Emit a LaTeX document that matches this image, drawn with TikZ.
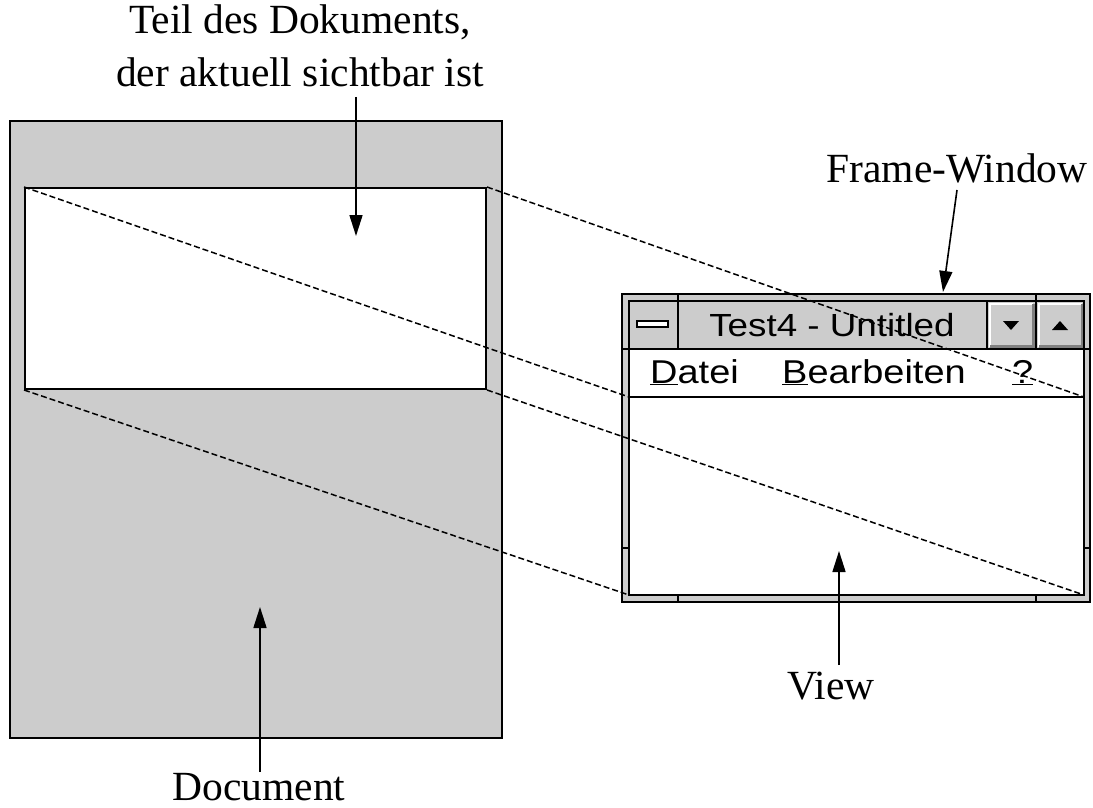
\documentclass[tikz,border=0pt]{standalone}
\usepackage{fontspec}
\setmainfont{Liberation Serif}
\newfontfamily\uifont[FakeStretch=1.15]{Liberation Sans}
\usetikzlibrary{arrows.meta}
\definecolor{docgray}{RGB}{204,204,204}
\definecolor{btnshadow}{RGB}{128,128,128}

\begin{document}
\begin{tikzpicture}[x=1pt,y=-1pt,
  labeltext/.style={font=\fontsize{41.5}{48}\selectfont, inner sep=0pt, anchor=base},
  uitext/.style={font=\uifont\fontsize{33}{38}\selectfont, inner sep=0pt, anchor=base west},
  box/.style={draw=black, line width=2pt, inner sep=0pt, rectangle},
  pointer/.style={line width=1.6pt, -{Triangle[width=13pt,length=21pt]}},
  proj/.style={line width=1.5pt, dash pattern=on 6pt off 3pt},
  thin frame/.style={draw=black, line width=1.6pt},
  tick/.style={black, line width=1.6pt}
]
\path[use as bounding box] (0,0) rectangle (1093,808);

% ---- the document with its visible part ----
\node[box, fill=docgray, minimum width=492pt, minimum height=617pt] (doc) at (256,429.5) {};
\node[box, fill=white, minimum width=461pt, minimum height=201pt] (vis) at (255.5,288.5) {};

% ---- the frame window ----
\node[thin frame, fill=docgray, inner sep=0pt, minimum width=468pt, minimum height=308pt] (frame) at (856,448) {};
\node[thin frame, fill=white, inner sep=0pt, minimum width=455pt, minimum height=294pt] (client) at (856.5,448) {};
% title bar
\node[thin frame, fill=docgray, inner sep=0pt, minimum width=455pt, minimum height=48pt] (title) at (856.5,325) {};
\draw[tick] (678,301) -- (678,349);
% system menu bar icon
\node[draw=black, fill=white, line width=1.3pt, inner sep=0pt, minimum width=31pt, minimum height=6pt] (sysicon) at (652.5,324) {};
% minimize / maximize buttons
\fill[docgray] (987,301) rectangle (1084,349);
\draw[white, line width=2pt] (989.5,347) -- (989.5,303.5) -- (1033,303.5);
\draw[btnshadow, line width=2.5pt] (990,346.5) -- (1033.5,346.5) -- (1033.5,304);
\draw[white, line width=2pt] (1038.5,347) -- (1038.5,303.5) -- (1082,303.5);
\draw[btnshadow, line width=2.5pt] (1039,346.5) -- (1082,346.5) -- (1082,304);
\draw[tick] (987,301) -- (987,349);
\draw[tick] (1036,301) -- (1036,349);
\draw[thin frame] (629,301) rectangle (1084,349);
\fill (1003,321) -- (1019,321) -- (1011,330) -- cycle;
\fill (1052,330) -- (1068,330) -- (1060,321) -- cycle;
\node[uitext, font=\uifont\fontsize{32}{38}\selectfont, anchor=base] (caption) at (832,336) {Test4 - Untitled};
% menu bar
\draw[tick] (629,397) -- (1084,397);
\node[uitext] (mfile) at (650,383) {\underline{D}atei};
\node[uitext] (medit) at (782,383) {\underline{B}earbeiten};
\node[uitext] (mhelp) at (1012,383) {\underline{?}};
% sizing-border ticks
\foreach \x in {678,1036} {
  \draw[tick] (\x,294) -- (\x,301);
  \draw[tick] (\x,595) -- (\x,602);
}
\foreach \y in {349,548} {
  \draw[tick] (622,\y) -- (629,\y);
  \draw[tick] (1084,\y) -- (1090,\y);
}
% the view (client area below the menu)
\coordinate (view nw) at (629,397);
\coordinate (view ne) at (1084,397);
\coordinate (view sw) at (629,595);
\coordinate (view se) at (1084,595);

% ---- projection of the visible part onto the view ----
\draw[proj] (vis.north west) -- (view nw);
\draw[proj] (vis.north east) -- (view ne);
\draw[proj] (vis.south west) -- (view sw);
\draw[proj] (vis.south east) -- (view se);

% ---- labels and pointers ----
\node[labeltext] (teilA) at (300,34) {Teil des Dokuments,};
\node[labeltext] (teilB) at (300,86) {der aktuell sichtbar ist};
\coordinate (teilStart) at (356,97);
\coordinate (teilEnd) at (356,236);
\draw[pointer] (teilStart) -- (teilEnd);

\node[labeltext] (framelbl) at (957,182) {Frame-Window};
\coordinate (frameStart) at (957,190);
\coordinate (frameEnd) at (943,292);
\draw[pointer] (frameStart) -- (frameEnd);

\node[labeltext] (viewlbl) at (831,699) {View};
\coordinate (viewStart) at (839,665);
\coordinate (viewEnd) at (839,551);
\draw[pointer] (viewStart) -- (viewEnd);

\node[labeltext] (doclbl) at (259,800) {Document};
\coordinate (docStart) at (260,772);
\coordinate (docEnd) at (260,607);
\draw[pointer] (docStart) -- (docEnd);
\end{tikzpicture}
\end{document}
